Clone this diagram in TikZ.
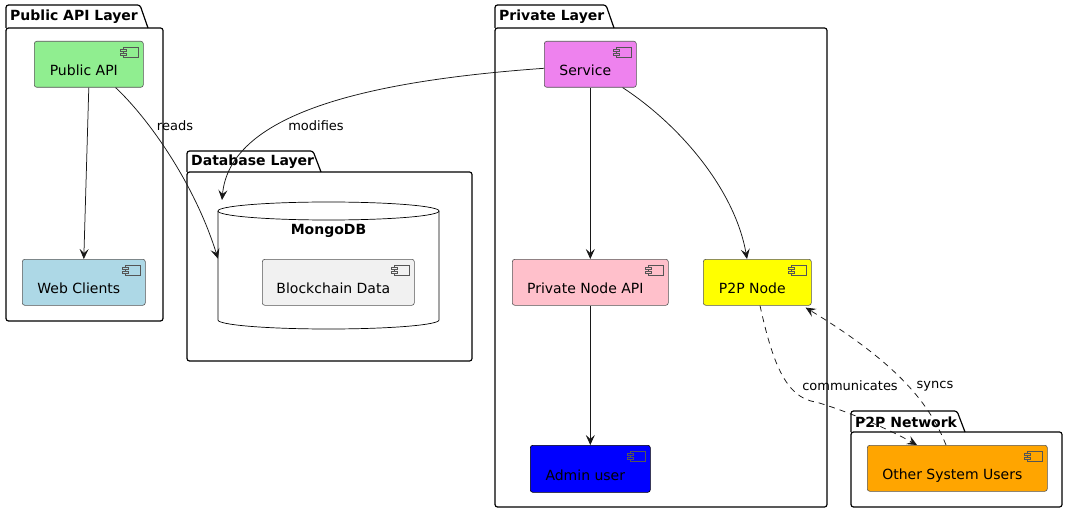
\documentclass[tikz,border=0pt]{standalone}
\usepackage{fontspec}
\setmainfont{DejaVu Sans}
\usetikzlibrary{arrows.meta,calc}
\definecolor{cgreen}{HTML}{90EE90}
\definecolor{cblue}{HTML}{ADD8E6}
\definecolor{cviolet}{HTML}{EE82EE}
\definecolor{cpink}{HTML}{FFC0CB}
\definecolor{cyellow}{HTML}{FFFF00}
\definecolor{cadmin}{HTML}{0000FF}
\definecolor{corange}{HTML}{FFA500}
\definecolor{cgrey}{HTML}{F1F1F1}
\definecolor{cborder}{HTML}{555555}
\definecolor{cline}{HTML}{181818}
\tikzset{
  comp/.style={draw=cborder, line width=0.6pt, rounded corners=2.5pt, rectangle,
    inner sep=0pt, text height=23pt, text depth=0pt, anchor=north west,
    font=\fontsize{14}{16}\selectfont, minimum height=46pt,
    execute at end node={\hspace{10pt}}},
  icon/.style={draw=cborder, line width=0.5pt},
  pkgline/.style={draw=black, line width=1.2pt, rounded corners=2.5pt},
  pkgtitle/.style={font=\fontsize{14}{16}\selectfont\bfseries, anchor=west, inner sep=0pt},
  arr/.style={-{Stealth[length=10pt,width=9pt,inset=4pt]}, line width=0.75pt, draw=cline},
  darr/.style={arr, dash pattern=on 6pt off 5pt},
  elabel/.style={font=\fontsize{13}{15}\selectfont, inner sep=0pt}
}
\newcommand\compicon[2]{%
  \draw[icon,fill=#2] ($(#1.north east)+(-20,6)$) rectangle ($(#1.north east)+(-5,16)$);
  \draw[icon,fill=#2] ($(#1.north east)+(-23,8.5)$) rectangle ($(#1.north east)+(-17,10.5)$);
  \draw[icon,fill=#2] ($(#1.north east)+(-23,12)$) rectangle ($(#1.north east)+(-17,14)$);
}
% x0, ytop, xtabright, ybody, x1, y1, name, title
\newcommand\pkgframe[8]{%
  \draw[pkgline] (#1,#4) -- (#1,#2) -- (#3,#2) -- ({#3+8},#4);
  \draw[pkgline] (#1,#4) rectangle (#5,#6);
  \node[pkgtitle] (#7) at ({#1+4},{(#2+#4)/2+0.5}) {#8};
}
\begin{document}
\begin{tikzpicture}[x=1pt,y=-1pt]
\useasboundingbox (0,0) rectangle (1068,513);
\fill[white] (0,0) rectangle (1068,513);

% packages
\pkgframe{6}{5}{140}{28}{163}{321}{tpub}{Public API Layer}
\pkgframe{187}{151}{313}{172}{472}{361}{tdb}{Database Layer}
\pkgframe{495}{5}{606}{28}{827}{507}{tpriv}{Private Layer}
\pkgframe{851}{411}{957}{432}{1062}{507}{tp2p}{P2P Network}

% database cylinder
\node[minimum width=221pt, minimum height=127pt, inner sep=0pt, anchor=north west] (mongo) at (218,202) {};
\draw[line width=0.7pt, fill=white] (218,211) -- (218,320)
  arc[start angle=180,end angle=360,x radius=110.5pt,y radius=9pt] -- (439,211)
  arc[start angle=0,end angle=180,x radius=110.5pt,y radius=9pt] -- cycle;
\draw[line width=0.7pt] (218,211) arc[start angle=180,end angle=360,x radius=110.5pt,y radius=9pt];
\node[font=\fontsize{14}{16}\selectfont\bfseries, inner sep=0pt] (mongotitle) at (328.5,231) {MongoDB};

% components
\node[comp, fill=cgreen, minimum width=109pt] (pubapi) at (34,41) {Public API};
\node[comp, fill=cblue, minimum width=123pt] (web) at (22,259) {Web Clients};
\node[comp, fill=cgrey, minimum width=152pt] (chain) at (262,259) {Blockchain Data};
\node[comp, fill=cviolet, minimum width=92pt] (service) at (544,41) {Service};
\node[comp, fill=cpink, minimum width=156pt] (pna) at (512,259) {Private Node API};
\node[comp, fill=cyellow, minimum width=108pt] (p2p) at (703,259) {P2P Node};
\node[comp, fill=cadmin, draw=black, minimum width=120pt, minimum height=47pt] (admin) at (530,445) {Admin user};
\node[comp, fill=corange, minimum width=180pt] (others) at (867,445) {Other System Users};

\compicon{pubapi}{cgreen}
\compicon{web}{cblue}
\compicon{chain}{cgrey}
\compicon{service}{cviolet}
\compicon{pna}{cpink}
\compicon{p2p}{cyellow}
\compicon{admin}{cadmin}
\compicon{others}{corange}

% connectors
\draw[arr] (pubapi.south) -- (web.north);
\draw[arr] ($(pubapi.south east)+(-28,0)$) .. controls (150,120) and (195,185) .. ($(mongo.west)+(0,-7)$);
\node[elabel] (lreads) at (175,126) {reads};
\draw[arr] ($(service.west)+(0,4)$) .. controls (380,80) and (230,110) .. ($(mongo.north west)+(4,-2)$);
\node[elabel] (lmod) at (316,126) {modifies};
\draw[arr] (service.south) -- (pna.north);
\draw[arr] ($(service.south east)+(-14,0)$) .. controls (680,125) and (735,190) .. ($(p2p.north west)+(44,0)$);
\draw[arr] (pna.south) -- (admin.north);
\draw[darr] ($(p2p.south west)+(57,0)$) .. controls (772,360) and (785,398) .. (816,402)
  .. controls (850,412) and (890,430) .. ($(others.north west)+(50,0)$);
\node[elabel] (lcomm) at (850,386) {communicates};
\draw[darr] ($(others.north west)+(79,0)$) .. controls (930,405) and (900,365) .. ($(p2p.south east)+(-6,2)$);
\node[elabel] (lsync) at (935,386) {syncs};
\end{tikzpicture}
\end{document}
